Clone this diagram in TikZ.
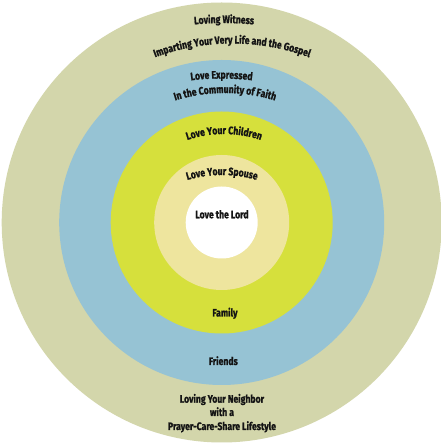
\documentclass[tikz,border=0pt]{standalone}
\usepackage{fontspec}
\newfontfamily\labfont{Fira Sans}[FakeStretch=0.8, BoldFeatures={FakeBold=1.2}]
\usetikzlibrary{decorations.text}
\definecolor{ringA}{RGB}{211,214,171}
\definecolor{ringB}{RGB}{150,195,212}
\definecolor{ringC}{RGB}{214,224,60}
\definecolor{ringD}{RGB}{238,229,158}
\definecolor{ink}{RGB}{20,20,20}
\newcommand{\lf}{\labfont\bfseries\fontsize{10.8}{12}\selectfont\color{ink}}
\tikzset{
  ring/.style={circle, inner sep=0pt, draw=none},
  lab/.style={anchor=base, inner sep=0pt, font=\lf, text=ink},
}
% arc text: center x, center y, radius, mid angle, text
\newcommand{\arctext}[5]{%
  \path[decorate, decoration={text along path, text align=center,
      text={|\lf|#5}}]
    (#1,#2) ++(#4+40:#3pt) arc[start angle=#4+40, end angle=#4-40, radius=#3pt];}
\begin{document}
\begin{tikzpicture}[x=1pt,y=1pt]
\useasboundingbox (0,0) rectangle (441,444);
\fill[white] (0,0) rectangle (441,444);
\coordinate (c) at (221.7,221.5);
\node[ring, fill=ringA, minimum size=440pt] (outer) at (c) {};
\node[ring, fill=ringB, minimum size=325pt] (faith) at (c) {};
\node[ring, fill=ringC, minimum size=222pt] (family) at (c) {};
\node[ring, fill=ringD, minimum size=135pt] (spouse) at (c) {};
\node[ring, fill=white, minimum size=72pt] (lord) at (c) {};
% curved texts (centre x, centre y, radius, mid angle)
\arctext{224}{121}{300}{90}{Loving Witness}
\arctext{232}{180.5}{220}{90}{Imparting Your Very Life and the Gospel}
\arctext{221.5}{115.5}{250}{90}{Love Expressed}
\arctext{225}{181}{170}{90}{In the Community of Faith}
\arctext{224}{196}{114}{90}{Love Your Children}
\arctext{222}{147}{122}{90}{Love Your Spouse}
% straight texts
\node[lab] (tlord) at (222,225.7) {Love the Lord};
\node[lab] (tfamily) at (225,127.5) {Family};
\node[lab] (tfriends) at (223.3,79) {Friends};
\node[lab] (tneigh) at (222,41.3) {Loving Your Neighbor};
\node[lab] (twith) at (222,28) {with a};
\node[lab] (tpcs) at (222,14) {Prayer-Care-Share Lifestyle};
\end{tikzpicture}
\end{document}
